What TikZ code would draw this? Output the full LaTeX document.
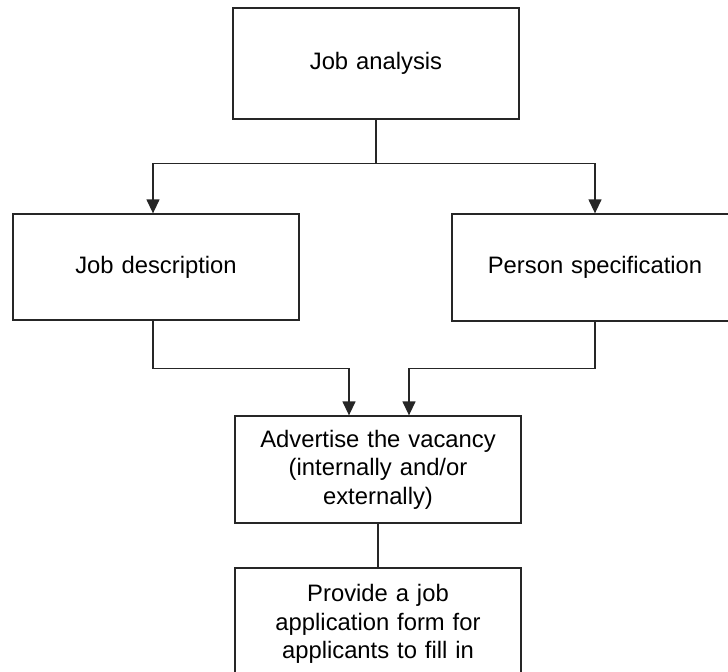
\documentclass[tikz,border=0pt]{standalone}
\usepackage{fontspec}
\setmainfont{Liberation Sans}
\usetikzlibrary{positioning,arrows,arrows.meta}

\begin{document}
\begin{tikzpicture}[x=0.5pt,y=-0.5pt, line width=0.65pt,
    blk/.style={draw=black!85,rectangle,inner sep=0pt,minimum width=143pt,text width=120pt,align=center,font=\fontsize{11.9}{14.3}\selectfont},
    link/.style={draw=black!85,-{Triangle[length=7pt,width=6.5pt]}}]
              \useasboundingbox (0,0) rectangle (728,671);
              \clip (0,0) rectangle (728,671);
              \node[blk,minimum height=55.5pt] (ja) at (376,63.5) {Job analysis};
              \node[blk,minimum height=53pt] (jd) at (156,267) {Job description};
              \node[blk,minimum height=53.5pt] (ps) at (595,267.5) {Person specification};
              \node[blk,minimum height=53.5pt] (adv) at (378,469.5) {Advertise the vacancy\\(internally and/or\\externally)};
              \node[blk,minimum height=56pt] (form) at (378,624) {Provide a job\\application form for\\applicants to fill in};

              \draw[link] (ja.south) -- ++(0,44) -| ([xshift=-1.5pt]jd.north);
              \draw[link] (ja.south) -- ++(0,44) -| (ps.north);
              \draw[link] ([xshift=-1.5pt]jd.south) -- ++(0,48) -| ([xshift=-14.5pt]adv.north);
              \draw[link] (ps.south) -- ++(0,47) -| ([xshift=15.5pt]adv.north);
              \draw[draw=black!85] (adv.south) -- (form.north);
            \end{tikzpicture}
\end{document}
